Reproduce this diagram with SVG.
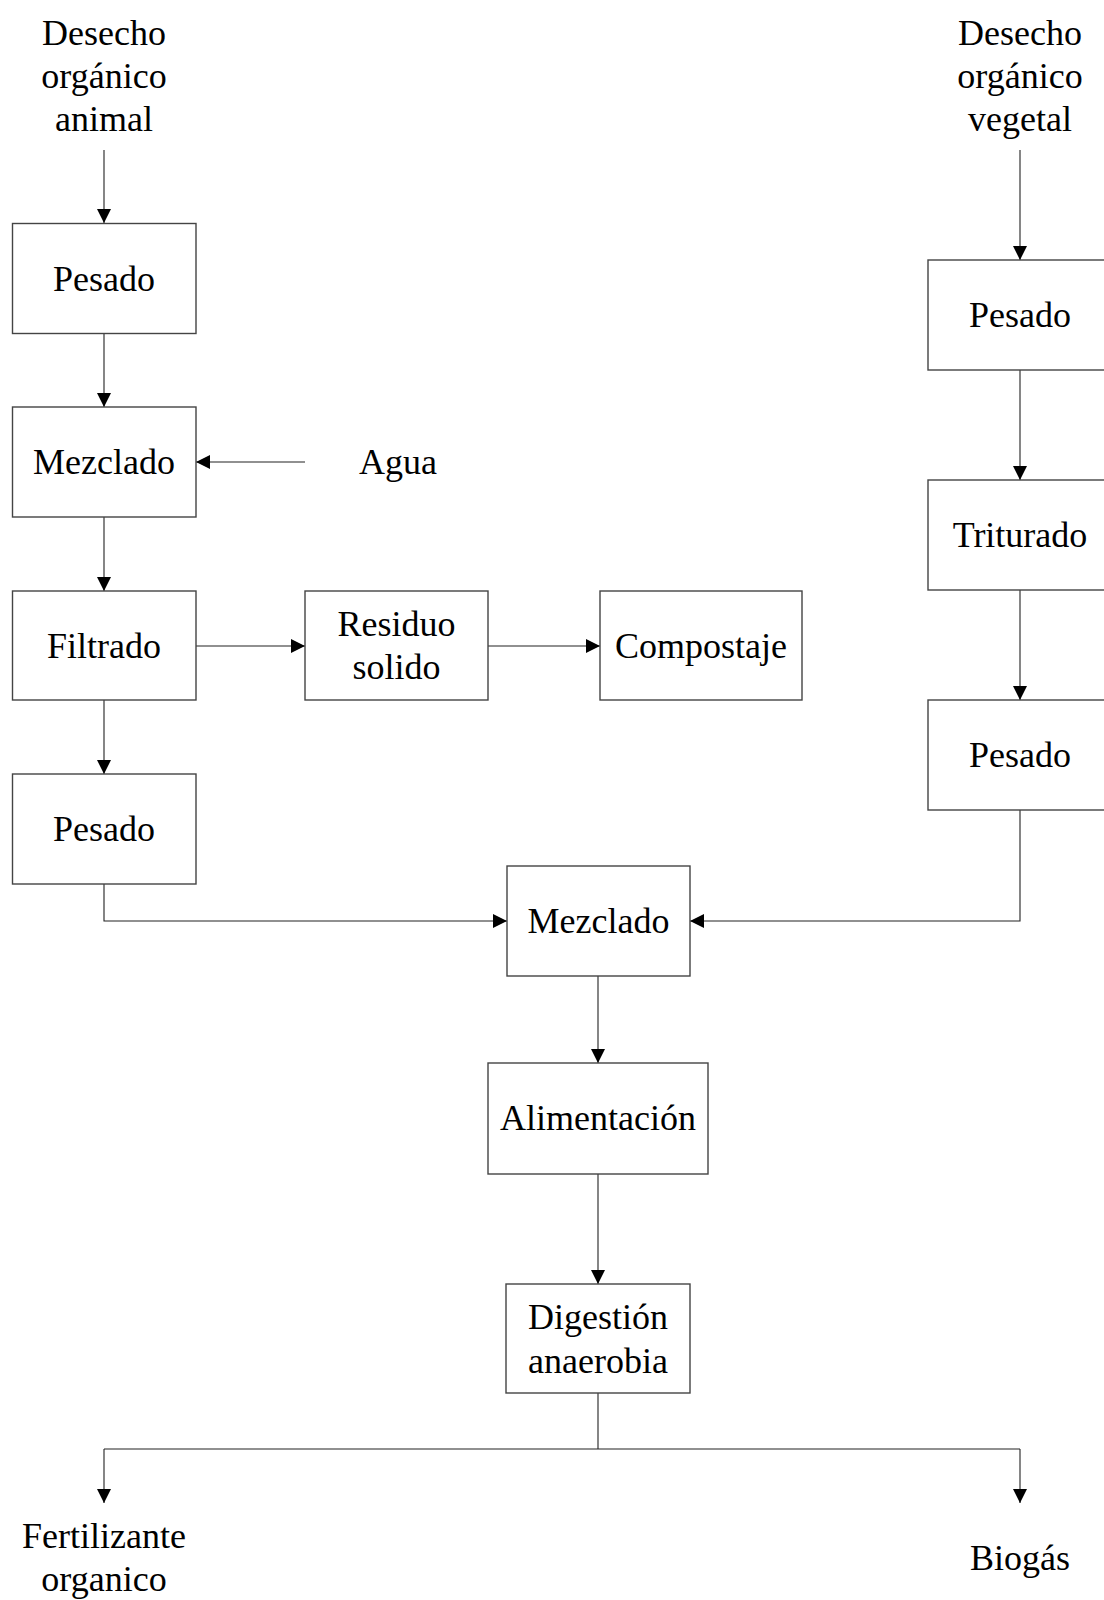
<svg xmlns="http://www.w3.org/2000/svg" width="1104" height="1600" viewBox="0 0 1104 1600">
<defs>
<style>
.box{fill:#fff;stroke:#444;stroke-width:1.4}
.t{font-family:"Liberation Serif","Times New Roman",serif;font-size:36px;fill:#000;text-anchor:middle}
.c{fill:none;stroke:#222;stroke-width:1.1}
</style>
<marker id="ah" viewBox="0 0 14 14" refX="14" refY="7" markerWidth="14" markerHeight="14" markerUnits="userSpaceOnUse" orient="auto">
<path d="M0,0 L14,7 L0,14 Z" fill="#000"/>
</marker>
</defs>
<rect width="1104" height="1600" fill="#fff"/>
<g id="connectors">
<path class="c" d="M104,150 V223" marker-end="url(#ah)"/>
<path class="c" d="M104,333 V407" marker-end="url(#ah)"/>
<path class="c" d="M104,517 V591" marker-end="url(#ah)"/>
<path class="c" d="M104,700 V774" marker-end="url(#ah)"/>
<path class="c" d="M305,462 H196" marker-end="url(#ah)"/>
<path class="c" d="M196,646 H305" marker-end="url(#ah)"/>
<path class="c" d="M488,646 H600" marker-end="url(#ah)"/>
<path class="c" d="M1020,150 V260" marker-end="url(#ah)"/>
<path class="c" d="M1020,370 V480" marker-end="url(#ah)"/>
<path class="c" d="M1020,590 V700" marker-end="url(#ah)"/>
<path class="c" d="M104,884 V921 H507" marker-end="url(#ah)"/>
<path class="c" d="M1020,810 V921 H690" marker-end="url(#ah)"/>
<path class="c" d="M598,976 V1063" marker-end="url(#ah)"/>
<path class="c" d="M598,1174 V1284" marker-end="url(#ah)"/>
<path class="c" d="M598,1393 V1449"/>
<path class="c" d="M104,1449 H1020"/>
<path class="c" d="M104,1449 V1503" marker-end="url(#ah)"/>
<path class="c" d="M1020,1449 V1503" marker-end="url(#ah)"/>
</g>
<g id="src-animal"><text class="t" x="104" y="45">Desecho</text><text class="t" x="104" y="88">orgánico</text><text class="t" x="104" y="131">animal</text></g>
<g id="src-vegetal"><text class="t" x="1020" y="45">Desecho</text><text class="t" x="1020" y="88">orgánico</text><text class="t" x="1020" y="131">vegetal</text></g>
<g id="pesado-a"><rect class="box" x="12.5" y="223.5" width="183.5" height="110"/><text class="t" x="104" y="291">Pesado</text></g>
<g id="mezclado-a"><rect class="box" x="12.5" y="407" width="183.5" height="110"/><text class="t" x="104" y="474">Mezclado</text></g>
<g id="agua"><text class="t" x="398" y="474">Agua</text></g>
<g id="filtrado"><rect class="box" x="12.5" y="591" width="183.5" height="109"/><text class="t" x="104" y="658">Filtrado</text></g>
<g id="residuo"><rect class="box" x="305" y="591" width="183" height="109"/><text class="t" x="396.5" y="636">Residuo</text><text class="t" x="396.5" y="679">solido</text></g>
<g id="compostaje"><rect class="box" x="600" y="591" width="202" height="109"/><text class="t" x="701" y="658">Compostaje</text></g>
<g id="pesado-a2"><rect class="box" x="12.5" y="774" width="183.5" height="110"/><text class="t" x="104" y="841">Pesado</text></g>
<g id="pesado-b"><rect class="box" x="928" y="260" width="184" height="110"/><text class="t" x="1020" y="327">Pesado</text></g>
<g id="triturado"><rect class="box" x="928" y="480" width="184" height="110"/><text class="t" x="1020" y="547">Triturado</text></g>
<g id="pesado-b2"><rect class="box" x="928" y="700" width="184" height="110"/><text class="t" x="1020" y="767">Pesado</text></g>
<g id="mezclado-c"><rect class="box" x="507" y="866" width="183" height="110"/><text class="t" x="598.5" y="933">Mezclado</text></g>
<g id="alimentacion"><rect class="box" x="488" y="1063" width="220" height="111"/><text class="t" x="598" y="1130">Alimentación</text></g>
<g id="digestion"><rect class="box" x="506" y="1284" width="184" height="109"/><text class="t" x="598" y="1329">Digestión</text><text class="t" x="598" y="1373">anaerobia</text></g>
<g id="fertilizante"><text class="t" x="104" y="1548">Fertilizante</text><text class="t" x="104" y="1591">organico</text></g>
<g id="biogas"><text class="t" x="1020" y="1570">Biogás</text></g>
</svg>
